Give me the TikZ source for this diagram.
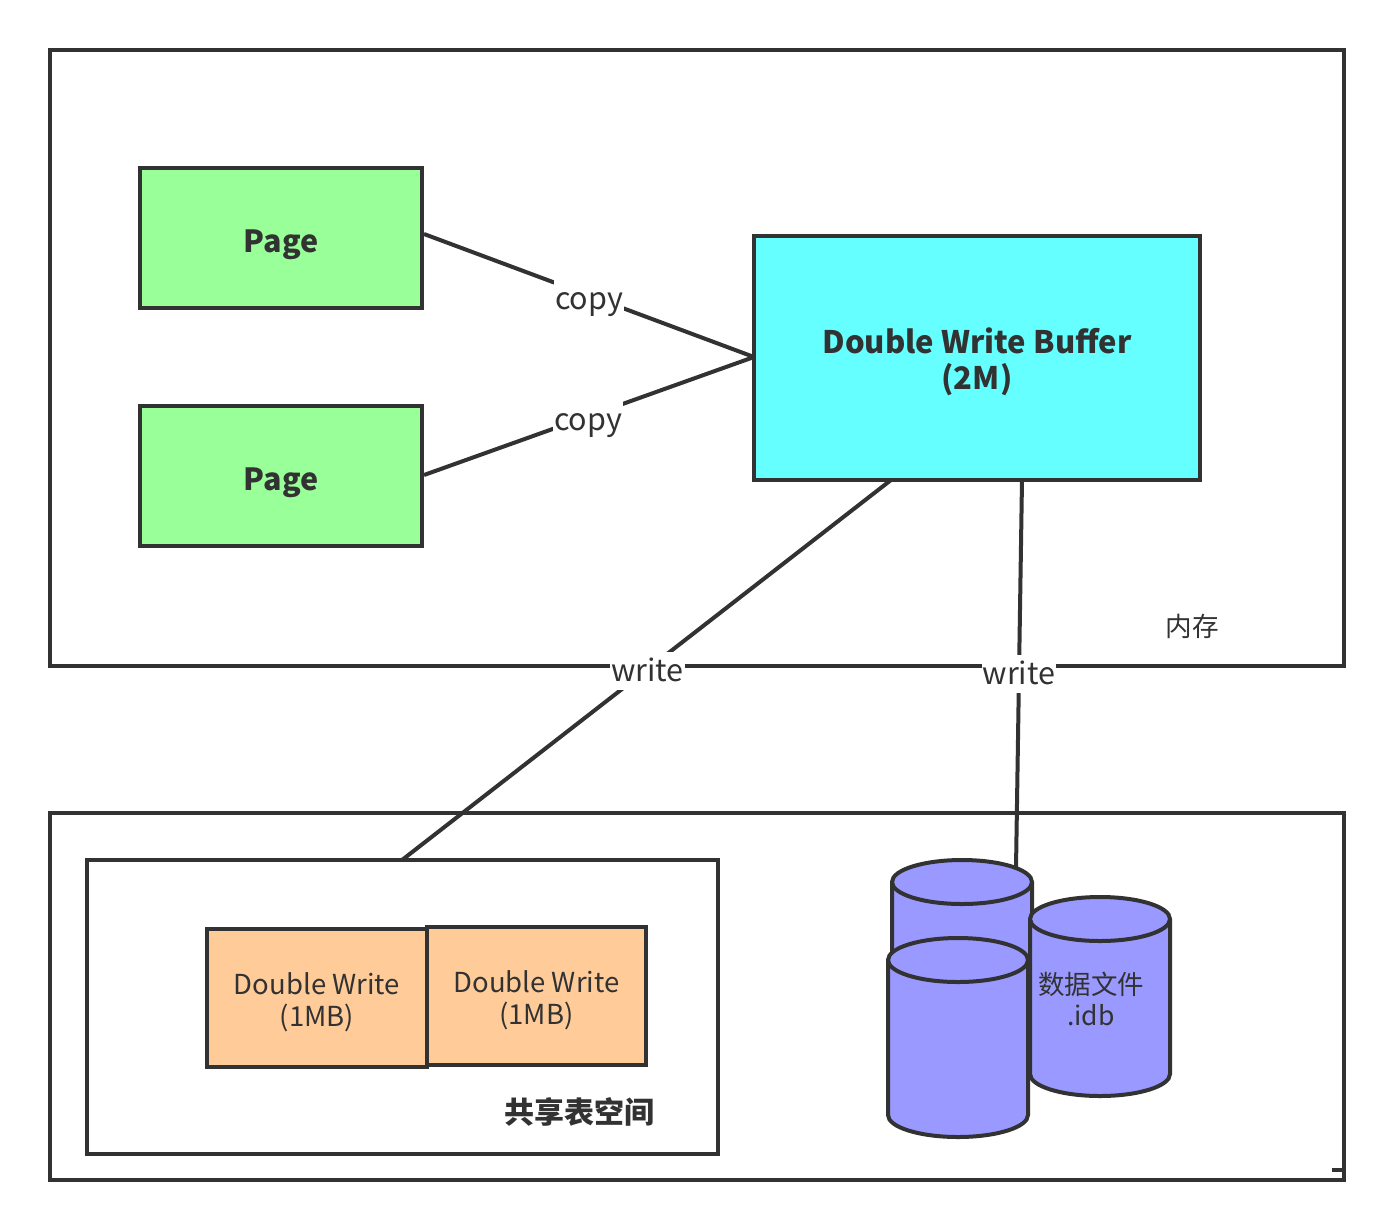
\documentclass[tikz,border=0pt]{standalone}
\usepackage{fontspec}
\setmainfont{Noto Sans CJK SC}
\definecolor{ink}{HTML}{323232}
\definecolor{cyl}{HTML}{9999FF}
\definecolor{pagefill}{HTML}{99FF99}
\definecolor{bufffill}{HTML}{66FFFF}
\definecolor{dwfill}{HTML}{FFCC99}
\tikzset{x=1pt,y=-1pt,
 box/.style={draw=ink,line width=4pt,inner sep=0pt,outer sep=0pt,anchor=north west,align=center,text=ink},
 wire/.style={draw=ink,line width=4pt},
 lab/.style={fill=white,inner xsep=1pt,inner ysep=0pt,text height=30pt,text depth=8pt,text=ink,font=\fontsize{30.5}{34}\selectfont},
 can/.style={draw=ink,line width=4pt,fill=cyl},
 pagetext/.style={text=ink,align=center,inner sep=0pt,yshift=-6.5pt,font=\fontsize{30.5}{36}\selectfont\bfseries},
 bufftext/.style={text=ink,align=center,inner sep=0pt,yshift=-4pt,font=\fontsize{31}{36}\selectfont\bfseries},
 dwtext/.style={text=ink,align=center,inner sep=0pt,yshift=-4pt,font=\fontsize{27.5}{32}\selectfont},
 pagebox/.style={box,fill=pagefill,minimum width=282pt,minimum height=140pt},
 dwbox/.style={box,fill=dwfill,minimum height=138pt},
}
\begin{document}
\begin{tikzpicture}[line join=miter]
\useasboundingbox (0,0) rectangle (1394,1229);
\fill[white] (0,0) rectangle (1394,1229);
\node[box,minimum width=1294pt,minimum height=615.5pt] (mem) at (50,50) {};
\node[box,minimum width=1294pt,minimum height=366.5pt] (disk) at (50,813) {};
\node[box,minimum width=631pt,minimum height=294pt] (shared) at (87,860) {};
\node[pagebox,label={[pagetext]center:Page}] (p1) at (140,168) {};
\node[pagebox,label={[pagetext]center:Page}] (p2) at (140,406) {};
\node[box,fill=bufffill,minimum width=446pt,minimum height=244pt,label={[bufftext]center:{Double Write Buffer\\(2M)}}] (dwb) at (754,236) {};
\node[dwbox,minimum width=220pt,label={[dwtext]center:{Double Write\\(1MB)}}] (d1) at (207,929) {};
\node[dwbox,minimum width=219pt,label={[dwtext]center:{Double Write\\(1MB)}}] (d2) at (427,927) {};
\coordinate (p1R) at (424,234);
\coordinate (p2R) at (424,475);
\coordinate (dwbL) at (754,357);
\coordinate (dwbB1) at (891,480);
\coordinate (dwbB2) at (1022,480);
\coordinate (sharedT) at (402,860);
\coordinate (canT) at (1016,868);
\draw[wire] (p1R) -- node[lab,pos=.5,yshift=-2.5pt] (c1) {copy} (dwbL);
\draw[wire] (p2R) -- node[lab,pos=.5,yshift=-3.5pt,xshift=-1pt] (c2) {copy} (dwbL);
\draw[wire] (dwbB1) -- node[lab,pos=.5,yshift=-0.5pt,xshift=1pt] (w1) {write} (sharedT);
\draw[wire] (dwbB2) -- node[lab,pos=.5,yshift=0.5pt] (w2) {write} (canT);
\node[text=ink,font=\fontsize{26.6}{30}\selectfont] (memlab) at (1192,626) {内存};
\node[text=ink,font=\fontsize{30}{34}\selectfont\bfseries] (sharedlab) at (579,1112) {共享表空间};
% cylinders
\draw[can] (892,882) -- (892,960) arc[start angle=180,end angle=360,x radius=70,y radius=-22] -- (1032,882) arc[start angle=0,end angle=180,x radius=70,y radius=-22] -- cycle;
\draw[can] (892,882) arc[start angle=180,end angle=360,x radius=70,y radius=-22];
\draw[can] (1030,919) -- (1030,1074) arc[start angle=180,end angle=360,x radius=70,y radius=-22] -- (1170,919) arc[start angle=0,end angle=180,x radius=70,y radius=-22] -- cycle;
\draw[can] (1030,919) arc[start angle=180,end angle=360,x radius=70,y radius=-22];
\draw[can] (888,960) -- (888,1115) arc[start angle=180,end angle=360,x radius=70,y radius=-22] -- (1028,960) arc[start angle=0,end angle=180,x radius=70,y radius=-22] -- cycle;
\draw[can] (888,960) arc[start angle=180,end angle=360,x radius=70,y radius=-22];
\node[text=ink,align=center,font=\fontsize{26.5}{31}\selectfont] (dbf) at (1091,998.5) {数据文件\\.idb};
\coordinate (tick1) at (1332,1170);
\coordinate (tick2) at (1344,1170);
\draw[wire] (tick1) -- (tick2);
\end{tikzpicture}
\end{document}
